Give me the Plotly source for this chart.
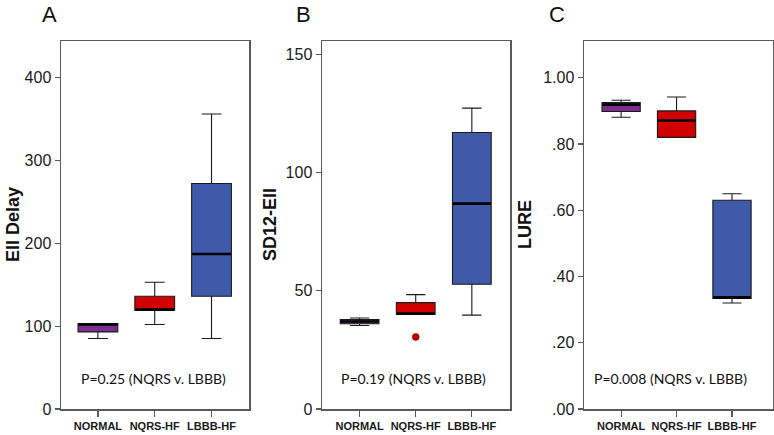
import plotly.graph_objects as go

categories = ["NORMAL", "NQRS-HF", "LBBB-HF"]
colors = ["#7D2E8C", "#D10000", "#3E5AA9"]

# Panel A: Ell Delay
a_q1 = [93, 119, 136]
a_med = [102, 120, 187]
a_q3 = [103, 136, 272]
a_low = [85, 102, 85]
a_high = [103, 153, 356]

# Panel B: SD12-Ell
b_q1 = [36.1, 40.0, 52.8]
b_med = [37.0, 40.4, 86.9]
b_q3 = [37.8, 45.0, 117.0]
b_low = [35.3, 40.0, 39.7]
b_high = [38.5, 48.4, 127.3]
b_outlier_cat = ["NQRS-HF"]
b_outlier_val = [30.5]

# Panel C: LURE
c_q1 = [0.898, 0.820, 0.334]
c_med = [0.919, 0.871, 0.337]
c_q3 = [0.925, 0.900, 0.630]
c_low = [0.881, 0.820, 0.320]
c_high = [0.932, 0.942, 0.650]

a_ticks = [0, 100, 200, 300, 400]
a_ticktext = ["0", "100", "200", "300", "400"]
b_ticks = [0, 50, 100, 150]
b_ticktext = ["0", "50", "100", "150"]
c_ticks = [0, 0.2, 0.4, 0.6, 0.8, 1.0]
c_ticktext = [".00", ".20", ".40", ".60", ".80", "1.00"]

panel_letters = ["A", "B", "C"]
y_titles = ["Ell Delay", "SD12-Ell", "LURE"]
p_texts = ["P=0.25 (NQRS v. LBBB)", "P=0.19 (NQRS v. LBBB)", "P=0.008 (NQRS v. LBBB)"]

W, H = 774, 435
fig = go.Figure()

panels = [
    (a_q1, a_med, a_q3, a_low, a_high, "x", "y", 0.70),
    (b_q1, b_med, b_q3, b_low, b_high, "x2", "y2", 0.69),
    (c_q1, c_med, c_q3, c_low, c_high, "x3", "y3", 0.69),
]
for (q1, med, q3, lo, hi, xa, ya, bw) in panels:
    for i, cat in enumerate(categories):
        fig.add_trace(go.Box(
            x=[cat], q1=[q1[i]], median=[med[i]], q3=[q3[i]],
            lowerfence=[lo[i]], upperfence=[hi[i]],
            fillcolor=colors[i], line=dict(color="#1a1a1a", width=1.1),
            whiskerwidth=0.5, width=bw, boxpoints=False,
            xaxis=xa, yaxis=ya, showlegend=False, hoverinfo="skip",
        ))
    # thick median line drawn as a flat box at the median value
    for i, cat in enumerate(categories):
        fig.add_trace(go.Box(
            x=[cat], q1=[med[i]], median=[med[i]], q3=[med[i]],
            lowerfence=[med[i]], upperfence=[med[i]],
            fillcolor="black", line=dict(color="black", width=2.6),
            whiskerwidth=0, width=bw * 0.97, boxpoints=False,
            xaxis=xa, yaxis=ya, showlegend=False, hoverinfo="skip",
        ))

fig.add_trace(go.Scatter(
    x=b_outlier_cat, y=b_outlier_val, mode="markers",
    marker=dict(color="#C00000", size=7, line=dict(color="#8B0000", width=0.5)),
    xaxis="x2", yaxis="y2", showlegend=False, hoverinfo="skip",
))

def px_x(p):
    return p / W

def px_y(p):
    return 1 - p / H

frame_color = "#5a5a5a"
xdomains = [[px_x(61), px_x(249)], [px_x(322), px_x(510)], [px_x(584), px_x(773)]]
xranges = [[-0.65, 2.66], [-0.67, 2.68], [-0.67, 2.74]]
yranges = [[0, 444], [0, 155.7], [0, 1.111]]
ytickvals = [a_ticks, b_ticks, c_ticks]
yticktexts = [a_ticktext, b_ticktext, c_ticktext]
ydomain = [px_y(409), px_y(41)]

layout = dict(
    width=W, height=H, margin=dict(l=0, r=0, t=0, b=0),
    paper_bgcolor="white", plot_bgcolor="white",
    boxmode="overlay", showlegend=False,
    font=dict(family="Liberation Sans, Arial, sans-serif", color="#1a1a1a"),
)
for k in range(3):
    sfx = "" if k == 0 else str(k + 1)
    layout["xaxis" + sfx] = dict(
        domain=xdomains[k], range=xranges[k], type="category",
        categoryorder="array", categoryarray=categories,
        tickvals=categories, ticktext=["<b>%s</b>" % c for c in categories],
        anchor="y" + sfx, showline=True, mirror=True, linecolor=frame_color,
        linewidth=1.5, showgrid=False, zeroline=False,
        ticks="outside", ticklen=6, tickcolor=frame_color, tickwidth=1.2,
        tickfont=dict(size=11, family="Liberation Sans, Arial, sans-serif", color="#1a1a1a"),
        automargin=False, fixedrange=True,
    )
    layout["yaxis" + sfx] = dict(
        domain=ydomain, range=yranges[k], anchor="x" + sfx,
        showline=True, mirror=True, linecolor=frame_color, linewidth=1.5,
        showgrid=False, zeroline=False, ticks="outside", ticklen=5,
        tickcolor=frame_color, tickwidth=1.2,
        tickvals=ytickvals[k], ticktext=yticktexts[k],
        tickfont=dict(size=16, color="#1a1a1a"), automargin=False, fixedrange=True,
    )

fig.update_layout(**layout)

letter_x = [50, 303, 557]
title_x = [13, 270, 525]
p_x = [153, 413, 670]
for k in range(3):
    fig.add_annotation(text=panel_letters[k], x=px_x(letter_x[k]), y=px_y(15),
                       xref="paper", yref="paper", showarrow=False,
                       font=dict(size=22, color="#111111"), xanchor="center", yanchor="middle")
    fig.add_annotation(text="<b>%s</b>" % y_titles[k], x=px_x(title_x[k]), y=px_y(225),
                       xref="paper", yref="paper", showarrow=False, textangle=-90,
                       font=dict(size=18, color="#111111"), xanchor="center", yanchor="middle")
    fig.add_annotation(text=p_texts[k], x=px_x(p_x[k]), y=px_y(378),
                       xref="paper", yref="paper", showarrow=False,
                       font=dict(size=14, family="Lato, Open Sans, sans-serif", color="#111111"),
                       xanchor="center", yanchor="middle")

fig.write_html("out.html", config={"displayModeBar": False, "staticPlot": True},
               post_script="document.body.style.margin='0';document.body.style.overflow='hidden';")
